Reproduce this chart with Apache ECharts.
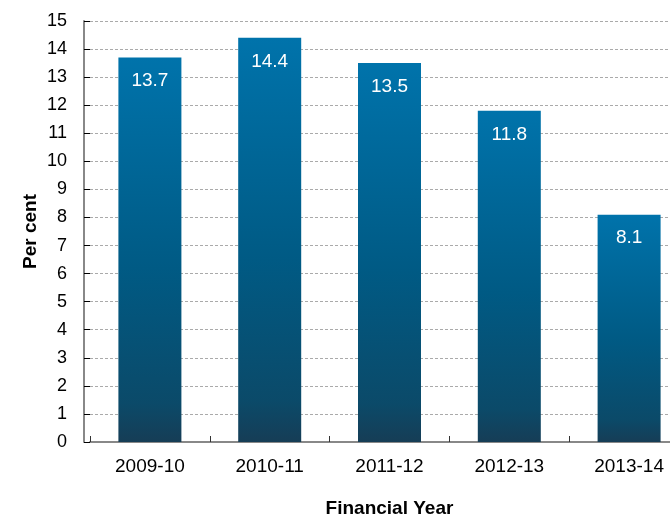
<!DOCTYPE html>
<html><head><meta charset="utf-8">
<script src="https://cdn.jsdelivr.net/npm/echarts@6/dist/echarts.min.js"></script>
<style>html,body{margin:0;padding:0;background:#fff}#c{width:670px;height:516px}</style>
</head><body><div id="c"></div>
<script>
const categories = ['2009-10','2010-11','2011-12','2012-13','2013-14'];
const values = [13.7, 14.4, 13.5, 11.8, 8.1];
const yTicks = {min:0, max:15, interval:1};
const chart = echarts.init(document.getElementById('c'), null, {renderer:'canvas'});
const font = '"Liberation Sans", Arial, sans-serif';
chart.setOption({
  animation:false,
  grid:{left:90, top:21, width:599, height:421, containLabel:false, outerBoundsMode:'none'},
  xAxis:{
    type:'category', data:categories,
    name:'Financial Year', nameLocation:'middle', nameGap:57, nameMoveOverlap:false,
    nameTextStyle:{fontFamily:font, fontSize:19, fontWeight:'bold', color:'#000'},
    axisLine:{lineStyle:{color:'#888', width:2}},
    axisTick:{show:true, inside:true, length:6, lineStyle:{color:'#333'}},
    axisLabel:{fontFamily:font, fontSize:19, color:'#000', margin:15}
  },
  yAxis:{
    type:'value', min:yTicks.min, max:yTicks.max, interval:yTicks.interval,
    offset:6,
    name:'Per cent', nameLocation:'middle', nameGap:44, nameRotate:90, nameMoveOverlap:false,
    nameTextStyle:{fontFamily:font, fontSize:19, fontWeight:'bold', color:'#000'},
    axisLine:{show:true, lineStyle:{color:'#888', width:2}},
    axisTick:{show:true, inside:true, length:6, lineStyle:{color:'#000'}},
    axisLabel:{fontFamily:font, fontSize:18, color:'#000', margin:17},
    splitLine:{show:true, lineStyle:{color:'#aaa', type:[3,2], width:1}}
  },
  series:[{
    type:'bar', data:values, barWidth:63,
    itemStyle:{color:new echarts.graphic.LinearGradient(0,0,0,1,[
      {offset:0,color:'#0073ab'},{offset:0.55,color:'#005a84'},{offset:0.9,color:'#0b4a69'},{offset:1,color:'#163d56'}])},
    label:{show:true, position:'insideTop', distance:14, color:'#fff', fontFamily:font, fontSize:19,
      formatter:p=>p.value.toFixed(1)}
  }]
});
</script></body></html>
